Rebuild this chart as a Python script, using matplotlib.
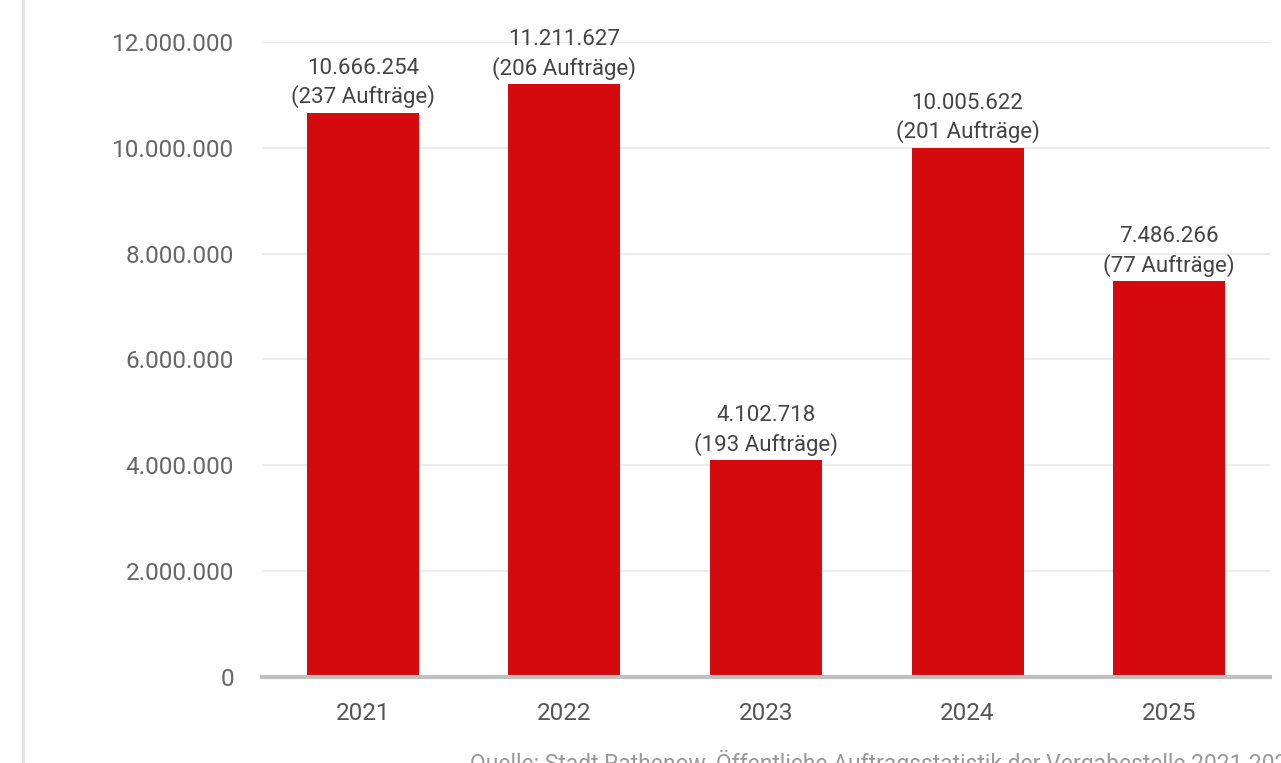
import matplotlib
matplotlib.use("Agg")
import matplotlib.pyplot as plt
from matplotlib.ticker import FuncFormatter

# --- Data ---
years = ["2021", "2022", "2023", "2024", "2025"]
volumes = [10666254, 11211627, 4102718, 10005622, 7486266]
orders = [237, 206, 193, 201, 77]
y_ticks = [0, 2000000, 4000000, 6000000, 8000000, 10000000, 12000000]

source = "Quelle: Stadt Rathenow, Öffentliche Auftragsstatistik der Vergabestelle 2021-2025"

plt.rcParams['font.family'] = ['Roboto', 'DejaVu Sans']

def de_num(v):
    return f"{int(v):,}".replace(",", ".")

fig = plt.figure(figsize=(12.81, 7.63), dpi=100)
ax = fig.add_axes([262 / 1281, 1 - 677 / 763, 1008 / 1281, 635 / 763])

x = range(len(years))
bars = ax.bar(x, volumes, width=0.555, color="#d40a0e", zorder=3)

for b, v, n in zip(bars, volumes, orders):
    ax.annotate(f"{de_num(v)}\n({n} Aufträge)",
                (b.get_x() + b.get_width() / 2, v),
                xytext=(0, 3), textcoords="offset points",
                ha="center", va="bottom", fontsize=16, color="#444444",
                linespacing=1.38)

ax.set_xlim(-0.5, len(years) - 0.5)
ax.set_ylim(0, 12000000)
ax.set_yticks(y_ticks)
ax.yaxis.set_major_formatter(FuncFormatter(lambda v, p: de_num(v)))
ax.set_xticks(list(x))
ax.set_xticklabels(years)

ax.grid(axis="y", color="#ececec", linewidth=1.5, zorder=0)
for s in ["top", "right", "left"]:
    ax.spines[s].set_visible(False)
ax.spines["bottom"].set_color("#c0c0c0")
ax.spines["bottom"].set_linewidth(3)
ax.spines["bottom"].set_zorder(4)

ax.tick_params(axis="y", length=0, pad=20, labelsize=17.5, labelcolor="#666666")
ax.tick_params(axis="x", length=0, pad=18, labelsize=17.5, labelcolor="#555555")

# thin frame line on the left edge of the panel
fig.add_artist(plt.Line2D([23 / 1281, 23 / 1281], [0, 1], color="#e2e2e2",
                          linewidth=2, transform=fig.transFigure))

fig.text(470 / 1281, 1 - 750 / 763, source, ha="left", va="top",
         fontsize=16.5, color="#999999")

fig.savefig("out.png", dpi=100)
